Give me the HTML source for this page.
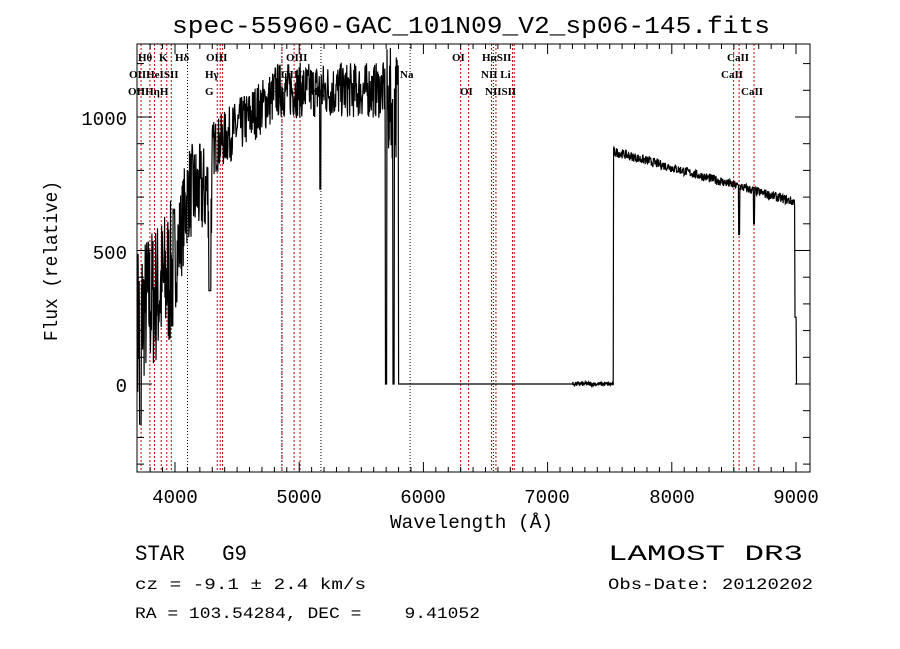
<!DOCTYPE html><html><head><meta charset="utf-8"><style>body{margin:0;background:#fff}svg{display:block}text{white-space:pre}</style></head><body>
<svg id="s" width="900" height="649" xmlns="http://www.w3.org/2000/svg" font-family="Liberation Serif, serif">
<rect width="900" height="649" fill="#fff"/>
<g id="lines"></g>
<path id="spec" fill="none" stroke="#000" stroke-width="1.2"/>
<rect x="137" y="44" width="673" height="428" fill="none" stroke="#000" stroke-width="1"/>
<g id="ticks" stroke="#000" stroke-width="1"></g>
<g font-size="11" font-weight="bold" fill="#000">
<text x="138" y="61">Hθ</text><text x="159" y="61">K</text><text x="175" y="61">Hδ</text><text x="206" y="61">OIII</text><text x="286" y="61">OIII</text>
<text x="129" y="78">OIIHeISII</text><text x="205" y="78">Hγ</text><text x="281" y="78">OIII</text><text x="400" y="78">Na</text>
<text x="128" y="95">OIIHηH</text><text x="205" y="95">G</text><text x="270" y="95">Hβ</text><text x="308" y="95">Mg</text>
<text x="452" y="61">OI</text><text x="482" y="61">HαSII</text><text x="481" y="78">NII Li</text><text x="460" y="95">OI</text><text x="485" y="95">NIISII</text>
<text x="727" y="61">CaII</text><text x="721" y="78">CaII</text><text x="741" y="95">CaII</text>
</g>
<g font-family="Liberation Mono, monospace" fill="#000">
<text x="172" y="33" font-size="24" textLength="598" lengthAdjust="spacingAndGlyphs">spec-55960-GAC_101N09_V2_sp06-145.fits</text>
<g font-size="19" text-anchor="middle"><text x="175" y="503">4000</text><text x="299" y="503">5000</text><text x="423" y="503">6000</text><text x="547" y="503">7000</text><text x="672" y="503">8000</text><text x="796" y="503">9000</text></g>
<g font-size="19" text-anchor="end"><text x="127" y="125">1000</text><text x="127" y="259">500</text><text x="127" y="392">0</text></g>
<text x="390" y="528" font-size="19" textLength="163" lengthAdjust="spacingAndGlyphs">Wavelength (Å)</text>
<text transform="translate(57,341) rotate(-90)" font-size="19" textLength="160" lengthAdjust="spacingAndGlyphs">Flux (relative)</text>
<text x="135" y="560" font-size="22" textLength="112" lengthAdjust="spacingAndGlyphs">STAR   G9</text>
<text x="608" y="560" font-size="22" textLength="195" lengthAdjust="spacingAndGlyphs">LAMOST DR3</text>
<text x="135" y="589" font-size="16" textLength="231" lengthAdjust="spacingAndGlyphs">cz = -9.1 ± 2.4 km/s</text>
<text x="608" y="589" font-size="16" textLength="205" lengthAdjust="spacingAndGlyphs">Obs-Date: 20120202</text>
<text x="135" y="618" font-size="16" textLength="345" lengthAdjust="spacingAndGlyphs">RA = 103.54284, DEC =    9.41052</text>
</g>
<script>
var NS='http://www.w3.org/2000/svg';
function ln(par,x1,y1,x2,y2,st,dash){var e=document.createElementNS(NS,'line');e.setAttribute('x1',x1);e.setAttribute('y1',y1);e.setAttribute('x2',x2);e.setAttribute('y2',y2);e.setAttribute('stroke',st);e.setAttribute('stroke-width','1');if(dash)e.setAttribute('stroke-dasharray',dash);par.appendChild(e);}
var X=l=>175+(l-4000)*0.1242,Y=f=>384-f*0.267;
var T=document.getElementById('ticks');
for(var l=3800;l<=9000;l+=100){var x=X(l);if(x<137||x>810)continue;var L=(l%1000==0)?10:5;ln(T,x,472,x,472-L,'#000');ln(T,x,44,x,44+L,'#000');}
for(var f=-300;f<=1200;f+=100){var y=Y(f);var L=(f%500==0)?15:7;ln(T,137,y,137+L,y,'#000');ln(T,810,y,810-L,y,'#000');}
var G=document.getElementById('lines');
var red=[3727,3798,3835,3889,3934,3970,4340,4364,4383,4861,4959,5007,6300,6364,6548,6584,6717,6731,8498,8542,8662],blk=[4101,4861,5175,5893,6563];
red.forEach(l=>ln(G,X(l),44,X(l),472,'#c00','2,2'));
blk.forEach(l=>ln(G,X(l),44,X(l),472,'#000','1,2'));
var seed=7;function r(){seed=(seed*16807)%2147483647;return seed/2147483647-0.5;}
function base(l){
if(l<4000)return 250+(l-3700)*0.6;
if(l<4100)return 450+(l-4000)*2.5;
if(l<4300)return 720;
if(l<4800)return 880+(l-4300)*0.4;
if(l<5700)return 1100;
if(l<5800)return 1050;
if(l<7530)return 0;
if(l<9000)return 870-(l-7540)*0.13;
return 0;}
function amp(l){if(l<4000)return 400;if(l<4300)return 260;if(l<5700)return 150;if(l<5800)return 300;if(l<7200)return 0;if(l<7530)return 12;if(l<9000)return 25;return 0;}
var d='';
for(var l=3700;l<=9010;l+=3){var f=base(l)+amp(l)*r()*1.4;
if(Math.abs(l-3720)<8)f=-150;if(Math.abs(l-4280)<10)f=350;if(Math.abs(l-5170)<6)f=730;if(Math.abs(l-5700)<6||Math.abs(l-5760)<6)f=0;
if(Math.abs(l-8542)<5)f=560;if(Math.abs(l-8662)<5)f=600;if(l>=8990&&l<9003)f=250;if(l>=9003)f=0;
if(l>=5800&&l<7200)f=0;
d+=(d?'L':'M')+X(l).toFixed(1)+','+Y(f).toFixed(1);}
document.getElementById('spec').setAttribute('d',d);
</script>
</svg></body></html>
